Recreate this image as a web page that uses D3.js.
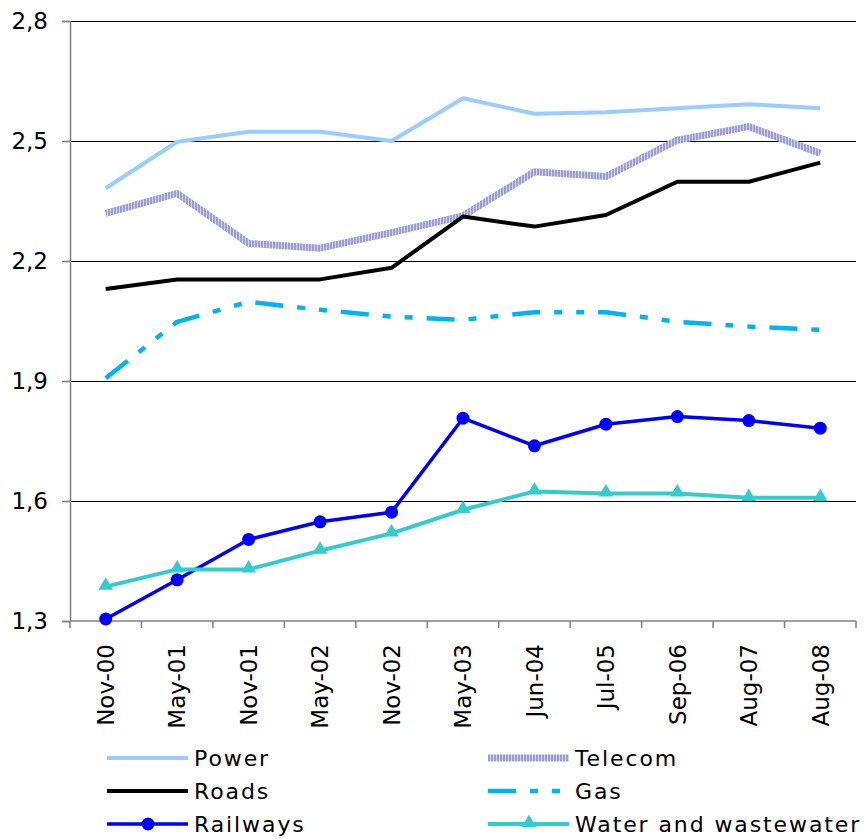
<!DOCTYPE html>
<html>
<head>
<meta charset="utf-8">
<script src="https://cdn.jsdelivr.net/npm/d3@7"></script>
<style>
  html, body { margin: 0; padding: 0; background: #fff; }
  svg { display: block; }
  text { font-family: "DejaVu Sans", Verdana, sans-serif; fill: #000; }
</style>
</head>
<body>
<svg id="chart" width="864" height="839"></svg>
<script>
// Survey dates along the horizontal axis
const dates = ["Nov-00", "May-01", "Nov-01", "May-02", "Nov-02", "May-03",
               "Jun-04", "Jul-05", "Sep-06", "Aug-07", "Aug-08"];

// Index values per sector
const power    = [2.382, 2.498, 2.523, 2.523, 2.500, 2.607, 2.568, 2.572, 2.582, 2.592, 2.582];
const telecom  = [2.319, 2.369, 2.244, 2.232, 2.271, 2.313, 2.423, 2.411, 2.502, 2.536, 2.469];
const roads    = [2.130, 2.154, 2.154, 2.154, 2.183, 2.311, 2.286, 2.315, 2.398, 2.398, 2.446];
const gas      = [1.907, 2.048, 2.098, 2.078, 2.061, 2.053, 2.072, 2.072, 2.048, 2.036, 2.028];
const railways = [1.305, 1.403, 1.504, 1.548, 1.572, 1.807, 1.738, 1.792, 1.811, 1.801, 1.782];
const water    = [1.386, 1.429, 1.429, 1.476, 1.519, 1.578, 1.624, 1.619, 1.619, 1.608, 1.608];

const yTicks = [1.3, 1.6, 1.9, 2.2, 2.5, 2.8];

const series = [
  { name: "Power",               values: power,    color: "#99CCFF", width: 4 },
  { name: "Telecom",             values: telecom,  color: "url(#stripes)", width: 7 },
  { name: "Roads",               values: roads,    color: "#000000", width: 4 },
  { name: "Gas",                 values: gas,      color: "#00B4F0", width: 4.5, dash: "28,14,8,14,8,14" },
  { name: "Railways",            values: railways, color: "#0000FF", width: 3.5, marker: "circle" },
  { name: "Water and wastewater",values: water,    color: "#33CCCC", width: 4, marker: "triangle" }
];

const svg = d3.select("#chart");
const plotLeft = 70, plotRight = 856, plotTop = 21, plotBottom = 621;

const defs = svg.append("defs");
const pat = defs.append("pattern")
  .attr("id", "stripes").attr("patternUnits", "userSpaceOnUse")
  .attr("width", 3).attr("height", 3);
pat.append("rect").attr("width", 3).attr("height", 3).attr("fill", "#D2D2EC");
pat.append("rect").attr("width", 2).attr("height", 3).attr("fill", "#9E9ECE");

const x = d3.scaleBand().domain(dates).range([plotLeft, plotRight]);
const y = d3.scaleLinear().domain([1.3, 2.8]).range([plotBottom, plotTop]);
const cx = d => x(d) + x.bandwidth() / 2;

// Horizontal gridlines
svg.append("g").selectAll("line").data(yTicks.slice(1)).join("line")
  .attr("x1", plotLeft).attr("x2", plotRight)
  .attr("y1", d => y(d)).attr("y2", d => y(d))
  .attr("stroke", "#000").attr("stroke-width", 1)
  .attr("shape-rendering", "crispEdges");

// Y axis
const yAxis = svg.append("g").attr("transform", `translate(${plotLeft},0)`)
  .call(d3.axisLeft(y).tickValues(yTicks).tickSize(8).tickPadding(14)
    .tickFormat(d => d3.format(".1f")(d).replace(".", ",")));
yAxis.select(".domain").attr("stroke", "#808080").attr("stroke-width", 1.5);
yAxis.selectAll(".tick line").attr("stroke", "#808080").attr("stroke-width", 1.5);
yAxis.selectAll(".tick text").attr("font-size", 23).attr("fill", "#000")
  .attr("font-family", "DejaVu Sans, Verdana, sans-serif");

// X axis with tick marks on band boundaries
const xAxisG = svg.append("g").attr("transform", `translate(0,${plotBottom})`);
xAxisG.append("line").attr("x1", plotLeft).attr("x2", plotRight).attr("y1", 0).attr("y2", 0)
  .attr("stroke", "#808080").attr("stroke-width", 1.5);
const bounds = dates.map(d => x(d)).concat([plotRight]);
xAxisG.selectAll("line.tk").data(bounds).join("line").attr("class", "tk")
  .attr("x1", d => d).attr("x2", d => d).attr("y1", 0).attr("y2", 7)
  .attr("stroke", "#808080").attr("stroke-width", 1.5);
xAxisG.selectAll("text").data(dates).join("text")
  .attr("transform", d => `translate(${cx(d)},23) rotate(-90)`)
  .attr("text-anchor", "end").attr("dy", "0.36em")
  .attr("font-size", 23).text(d => d);

// Lines
const line = d3.line().x((v, i) => cx(dates[i])).y(v => y(v));
const plot = svg.append("g");
series.forEach(s => {
  plot.append("path").datum(s.values)
    .attr("d", line).attr("fill", "none")
    .attr("stroke", s.color).attr("stroke-width", s.width)
    .attr("stroke-linejoin", "round")
    .attr("stroke-dasharray", s.dash || null);
});
const triangle = d3.symbol().type(d3.symbolTriangle).size(92);
series.forEach(s => {
  if (s.marker === "circle") {
    plot.append("g").selectAll("circle").data(s.values).join("circle")
      .attr("cx", (v, i) => cx(dates[i])).attr("cy", v => y(v))
      .attr("r", 6.5).attr("fill", s.color);
  } else if (s.marker === "triangle") {
    plot.append("g").selectAll("path").data(s.values).join("path")
      .attr("d", triangle)
      .attr("transform", (v, i) => `translate(${cx(dates[i])},${y(v) - 1})`)
      .attr("fill", s.color);
  }
});

// Legend, two columns by three rows
const legend = svg.append("g");
const cols = [107, 488], rows = [758, 791, 824];
series.forEach((s, i) => {
  const lx = cols[i % 2], ly = rows[Math.floor(i / 2)];
  const g = legend.append("g").attr("transform", `translate(${lx},${ly})`);
  g.append("line").attr("x1", 0).attr("x2", 81).attr("y1", 0).attr("y2", 0)
    .attr("stroke", s.color).attr("stroke-width", s.width)
    .attr("stroke-dasharray", s.dash ? "28,14,8,14,8,14" : null);
  if (s.marker === "circle") {
    g.append("circle").attr("cx", 41).attr("cy", 0).attr("r", 6.5).attr("fill", s.color);
  } else if (s.marker === "triangle") {
    g.append("path").attr("d", triangle).attr("transform", "translate(41,-1)").attr("fill", s.color);
  }
  g.append("text").attr("x", 87).attr("y", 0).attr("dy", "0.36em")
    .attr("font-size", 22).attr("letter-spacing", 1.9).text(s.name);
});
</script>
</body>
</html>
